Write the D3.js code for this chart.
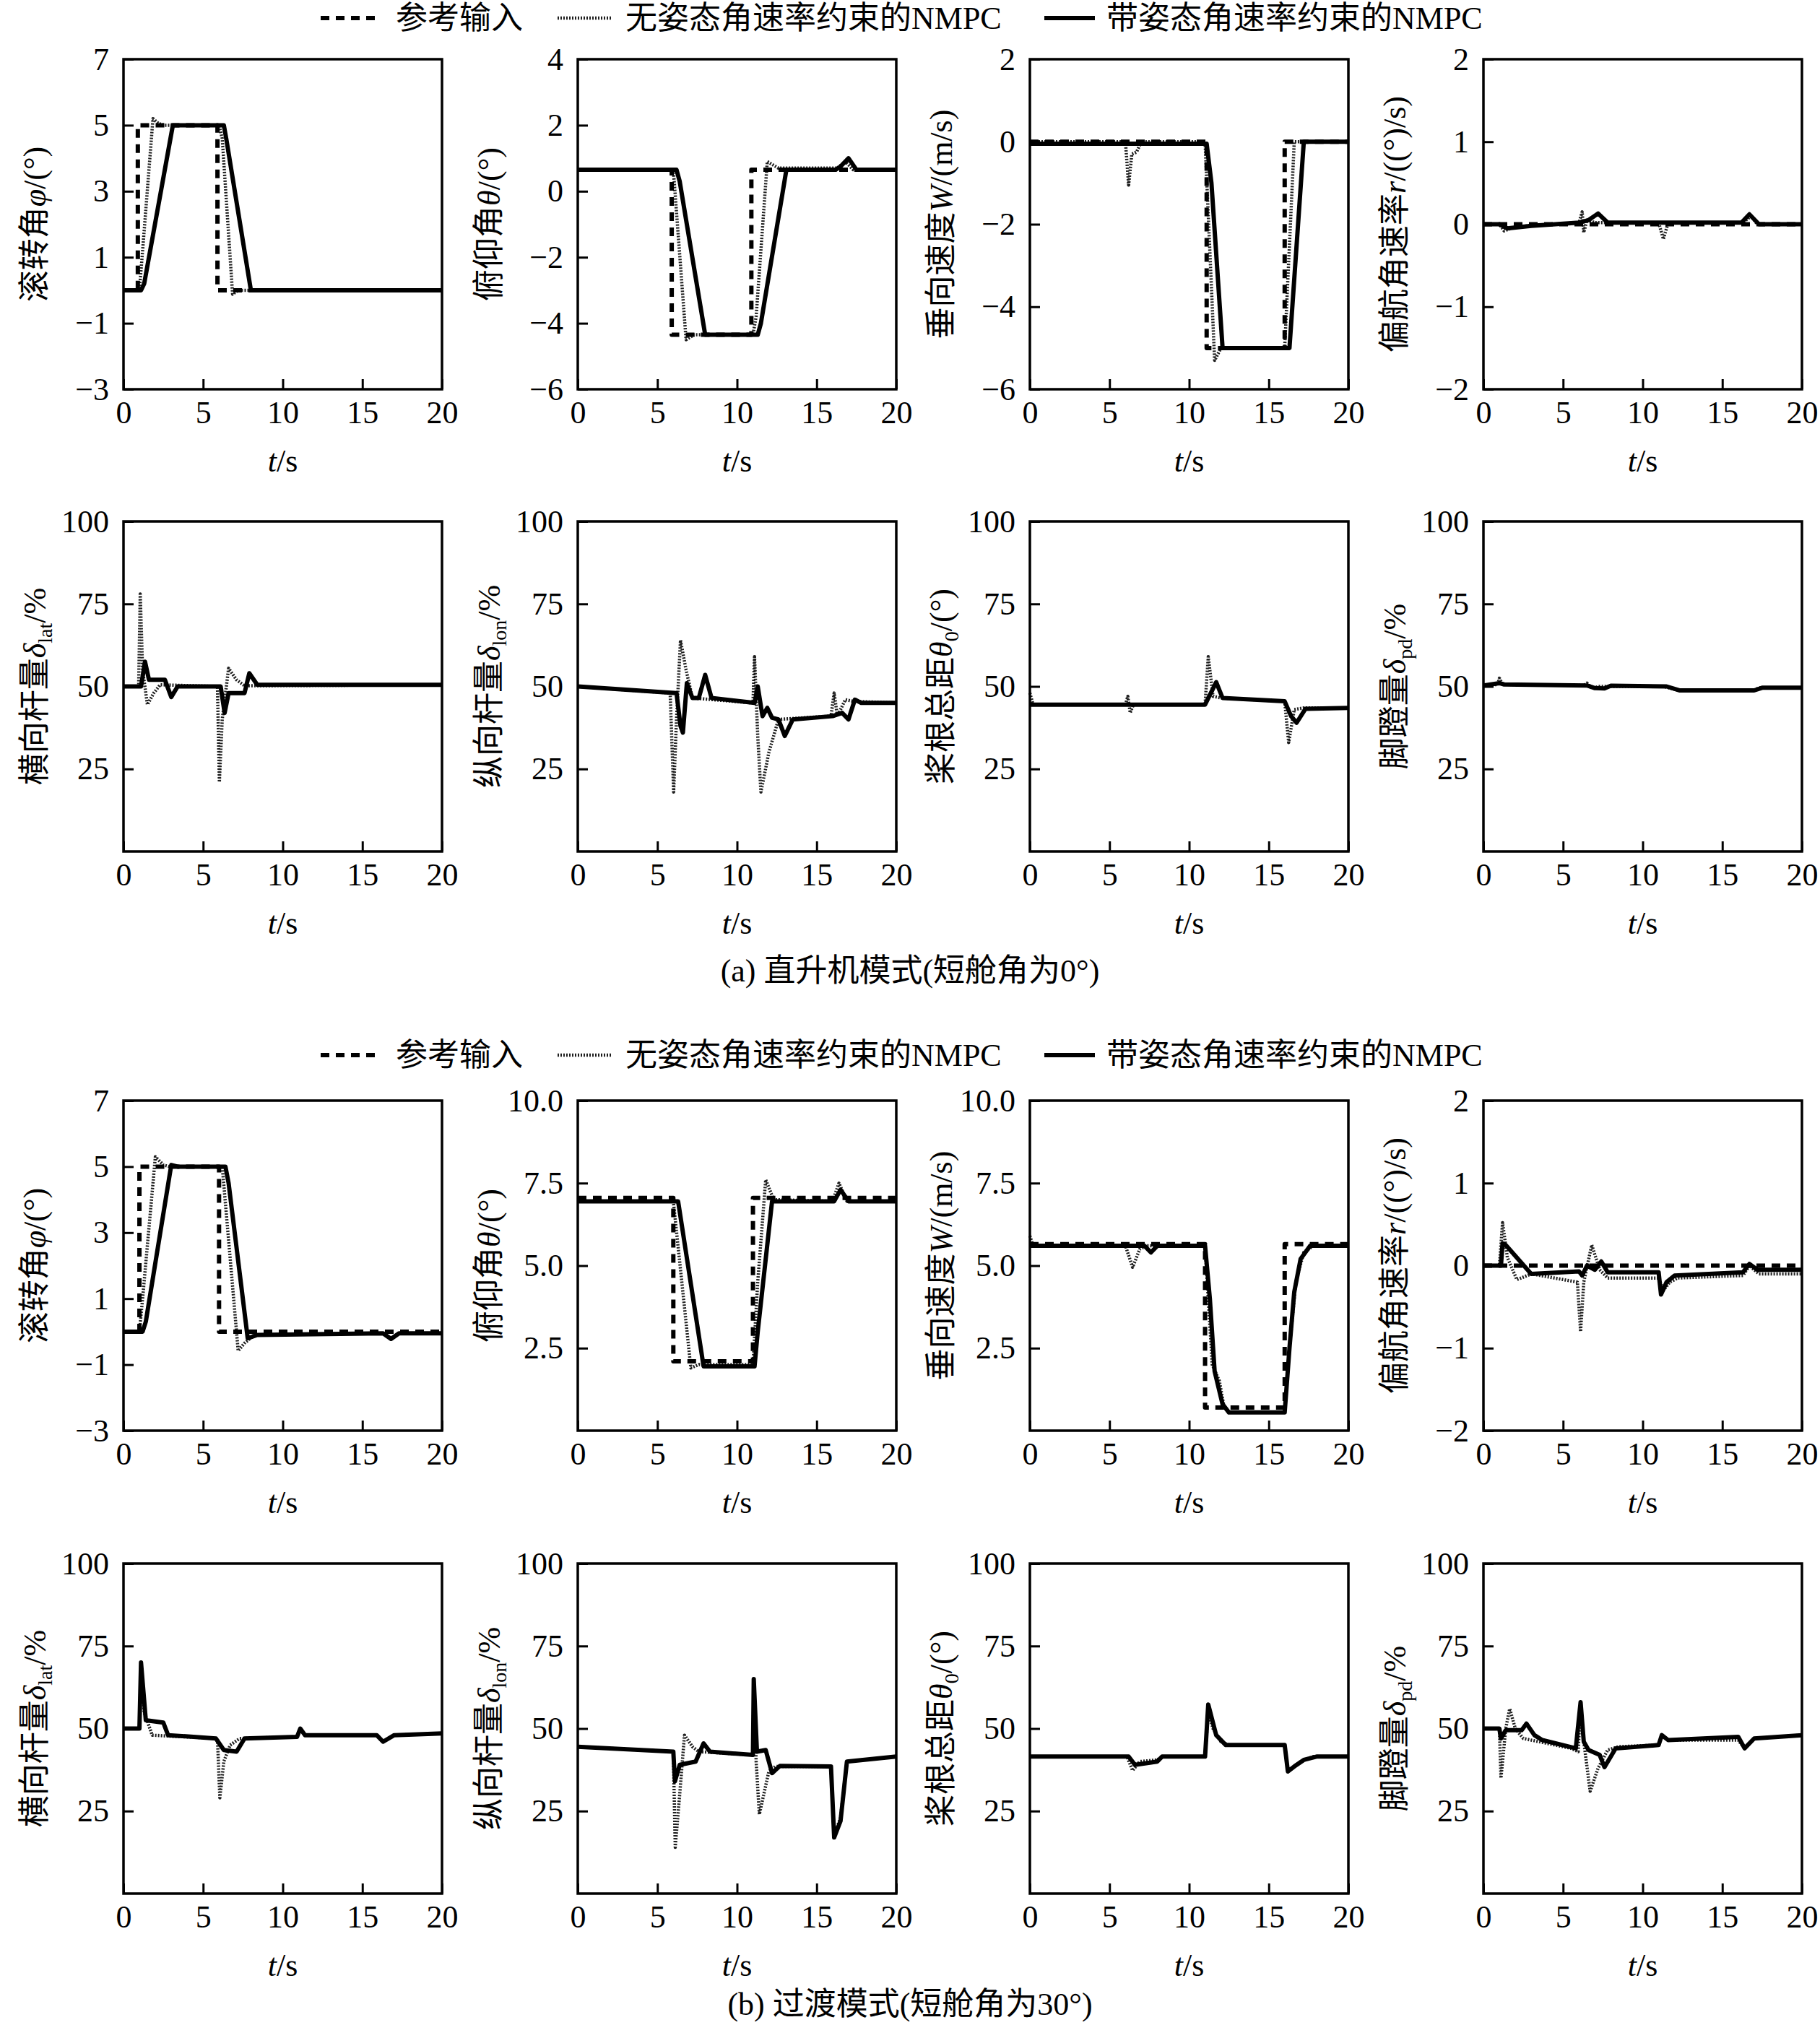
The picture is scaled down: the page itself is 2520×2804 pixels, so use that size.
<!DOCTYPE html>
<html>
<head>
<meta charset="utf-8">
<script src="https://cdn.jsdelivr.net/npm/d3@7"></script>
<style>
  body { margin: 0; background: #fff; }
  svg { display: block; font-family: 'Liberation Serif', 'Noto Sans CJK SC', serif; }
</style>
</head>
<body>
<svg id="chart" width="2520" height="2804"></svg>
<script>
// ---- data: [t (s), value] breakpoints ----
const timeTicks = [0, 5, 10, 15, 20];

// (a) helicopter mode, attitude / velocity
const rollRefA = [[0, 0], [0.9, 0], [0.9, 5], [5.9, 5], [5.9, 0], [20, 0]];
const rollFreeA = [[0, 0], [1.0, 0], [1.2, 1.2], [1.85, 5.2], [2.2, 5.05], [2.6, 5.0], [6.0, 5.0], [6.2, 4.6], [6.85, -0.12], [7.2, 0], [20, 0]];
const rollConA = [[0, 0], [1.1, 0], [1.3, 0.2], [3.1, 5.0], [6.3, 5.0], [6.45, 4.6], [8.0, 0], [20, 0]];

const pitchRefA = [[0, 0.65], [5.9, 0.65], [5.9, -4.35], [10.9, -4.35], [10.9, 0.65], [20, 0.65]];
const pitchFreeA = [[0, 0.65], [6.0, 0.65], [6.8, -4.5], [7.3, -4.35], [11.0, -4.35], [11.2, -3.8], [11.9, 0.9], [12.6, 0.7], [16.3, 0.7], [16.8, 0.9], [17.3, 0.65], [20, 0.65]];
const pitchConA = [[0, 0.65], [6.2, 0.65], [6.4, 0.3], [8.0, -4.35], [11.3, -4.35], [11.5, -4.0], [13.1, 0.65], [16.2, 0.65], [16.5, 0.75], [17.0, 1.0], [17.5, 0.65], [20, 0.65]];

const wRefA = [[0, 0], [11.1, 0], [11.1, -5], [16, -5], [16, 0], [20, 0]];
const wFreeA = [[0, 0], [6.0, 0], [6.2, -1.05], [6.4, -0.3], [6.7, -0.25], [7.0, 0], [11.0, 0], [11.6, -5.3], [12.0, -5.0], [16.0, -5.0], [16.6, 0], [20, 0]];
const wConA = [[0, -0.05], [11.1, -0.05], [11.4, -1.0], [12.1, -5.0], [16.3, -5.0], [17.2, 0], [20, 0]];

const yawRefA = [[0, 0], [20, 0]];
const yawFreeA = [[0, 0], [1.0, 0], [1.3, -0.08], [2.0, -0.03], [6.0, 0.02], [6.2, 0.15], [6.3, -0.1], [6.5, 0.05], [7.0, 0.02], [11.0, 0.02], [11.3, -0.18], [11.6, 0.02], [16.3, 0.02], [16.8, 0.1], [17.2, 0], [20, 0]];
const yawConA = [[0, 0], [1.0, 0], [1.5, -0.05], [3.0, -0.02], [6.0, 0.02], [6.6, 0.05], [7.2, 0.13], [7.8, 0.02], [11.0, 0.02], [16.2, 0.02], [16.7, 0.12], [17.3, 0], [20, 0]];

// (a) helicopter mode, controls
const latFreeA = [[0, 50], [0.95, 50], [1.05, 78], [1.2, 55], [1.5, 44.5], [1.9, 48], [2.3, 50.5], [5.9, 50], [6.02, 21], [6.2, 40], [6.6, 55.5], [7.1, 52], [7.6, 50.2], [20, 50.5]];
const latConA = [[0, 50], [1.1, 50], [1.35, 57.5], [1.6, 52], [2.6, 52], [3.0, 46.8], [3.4, 50], [6.1, 50], [6.35, 42], [6.6, 48], [7.6, 48], [7.9, 54], [8.4, 50.5], [20, 50.5]];

const lonFreeA = [[0, 50], [5.8, 48], [6.02, 18], [6.2, 40], [6.45, 64], [6.8, 55], [7.2, 46.5], [11.0, 45], [11.1, 59], [11.3, 35], [11.5, 18], [12.0, 30], [12.6, 40], [15.9, 41], [16.1, 48], [16.3, 41], [16.8, 46], [17.3, 45.5], [20, 45]];
const lonConA = [[0, 50], [6.2, 48], [6.45, 38], [6.6, 36], [6.85, 51], [7.2, 46.5], [7.6, 46.5], [8.0, 53.5], [8.4, 46.5], [11.1, 45], [11.3, 50], [11.6, 41], [11.9, 43.5], [12.2, 40.5], [12.6, 40], [13.0, 35], [13.5, 40], [16.0, 41], [16.6, 42], [17.0, 40], [17.4, 46], [17.8, 45], [20, 45]];

const colFreeA = [[0, 48], [0.2, 44.5], [6.0, 44.5], [6.15, 47], [6.3, 42], [6.5, 44.5], [11.0, 44.5], [11.2, 59], [11.5, 47], [12.0, 46.5], [16.0, 45.5], [16.25, 33], [16.6, 43], [17.2, 43.5], [20, 43.5]];
const colConA = [[0, 44.5], [11.0, 44.5], [11.7, 51.3], [12.1, 46.5], [16.0, 45.5], [16.4, 41], [16.75, 39], [17.3, 43.2], [20, 43.5]];

const pedFreeA = [[0, 50.3], [0.9, 50.6], [1.0, 52.5], [1.2, 50.6], [6.3, 50.3], [6.5, 51], [6.8, 49.5], [7.3, 50], [11.3, 50], [12.3, 48.8], [17.0, 48.8], [17.3, 49.6], [20, 49.6]];
const pedConA = [[0, 50.3], [1.0, 51], [1.3, 50.6], [6.5, 50.3], [7.0, 49.5], [7.6, 49.4], [8.0, 50.2], [11.5, 50], [12.3, 48.8], [17.0, 48.8], [17.5, 49.6], [20, 49.6]];

// (b) transition mode, attitude / velocity
const rollRefB = [[0, 0], [1, 0], [1, 5], [6, 5], [6, 0], [20, 0]];
const rollFreeB = [[0, 0], [1.0, 0], [1.2, 1.0], [2.0, 5.3], [2.5, 5.05], [2.9, 5.0], [6.2, 5.0], [7.2, -0.58], [7.6, -0.35], [8.2, -0.1], [16.3, -0.05], [16.8, -0.2], [17.3, -0.05], [20, -0.05]];
const rollConB = [[0, 0], [1.2, 0], [1.4, 0.3], [3.0, 5.05], [3.4, 5.0], [6.4, 5.0], [6.6, 4.5], [7.8, -0.2], [8.4, -0.1], [16.3, -0.05], [16.8, -0.22], [17.3, -0.05], [20, -0.05]];

const pitchRefB = [[0, 7.05], [6, 7.05], [6, 2.1], [11, 2.1], [11, 7.05], [20, 7.05]];
const pitchFreeB = [[0, 6.95], [6.0, 6.95], [7.1, 1.9], [7.6, 2.0], [11.0, 2.0], [11.3, 4.5], [11.8, 7.6], [12.3, 7.0], [16.0, 6.95], [16.4, 7.5], [16.9, 6.95], [20, 6.95]];
const pitchConB = [[0, 6.95], [6.3, 6.95], [7.9, 1.95], [11.1, 1.95], [11.3, 3.0], [12.2, 6.95], [16.1, 6.95], [16.5, 7.3], [17.0, 6.95], [20, 6.95]];

const wRefB = [[0, 5.65], [11, 5.65], [11, 0.7], [16, 0.7], [16, 5.65], [20, 5.65]];
const wFreeB = [[0, 5.9], [0.2, 5.6], [6.0, 5.6], [6.45, 4.95], [6.9, 5.5], [7.3, 5.6], [11.0, 5.6], [11.45, 2.0], [11.9, 1.5], [12.2, 0.7], [12.5, 0.55], [16.0, 0.55], [16.3, 2.5], [16.7, 4.5], [17.2, 5.4], [17.8, 5.6], [20, 5.6]];
const wConB = [[0, 5.6], [7.2, 5.6], [7.6, 5.4], [8.0, 5.6], [11.0, 5.6], [11.3, 4.0], [11.6, 1.8], [12.1, 0.8], [12.5, 0.55], [16.0, 0.55], [16.3, 2.5], [16.6, 4.2], [17.0, 5.2], [17.6, 5.6], [20, 5.6]];

const yawRefB = [[0, 0], [20, 0]];
const yawFreeB = [[0, 0], [1.0, 0], [1.2, 0.52], [1.5, 0.1], [2.1, -0.17], [3.0, -0.1], [5.9, -0.2], [6.1, -0.8], [6.3, -0.2], [6.8, 0.25], [7.3, -0.05], [7.8, -0.15], [11.0, -0.15], [11.3, -0.3], [11.7, -0.2], [12.2, -0.15], [16.3, -0.12], [16.7, 0], [17.3, -0.1], [20, -0.1]];
const yawConB = [[0, 0], [1.1, 0], [1.2, 0.27], [1.4, 0.25], [3.0, -0.1], [6.0, -0.07], [6.2, -0.12], [6.5, 0], [7.0, -0.05], [7.4, 0.05], [7.8, -0.08], [11.0, -0.08], [11.15, -0.35], [11.5, -0.2], [12.0, -0.12], [16.3, -0.08], [16.7, 0.02], [17.2, -0.05], [20, -0.05]];

// (b) transition mode, controls
const latFreeB = [[0, 50], [1.0, 50], [1.1, 70], [1.3, 55], [1.8, 48], [2.5, 47.8], [5.9, 47], [6.05, 29], [6.3, 40], [6.7, 45], [7.3, 47], [10.9, 47.5], [11.1, 50], [11.4, 48], [15.9, 48], [16.3, 46], [17.0, 48], [20, 48.5]];
const latConB = [[0, 50], [1.0, 50], [1.1, 70], [1.4, 52.5], [2.5, 51.8], [2.8, 48], [5.8, 47], [6.3, 43.5], [7.1, 43], [7.6, 47], [10.9, 47.5], [11.1, 50], [11.4, 48], [15.9, 48], [16.3, 46], [17.0, 48], [20, 48.5]];

const lonFreeB = [[0, 44.5], [6.0, 43], [6.12, 14], [6.4, 30], [6.7, 48], [7.2, 44.5], [7.6, 43], [11.0, 42], [11.05, 64], [11.2, 40], [11.4, 24], [12.0, 37], [12.4, 38.5], [15.9, 38.5], [16.1, 17.5], [16.5, 23], [16.9, 40], [20, 41.5]];
const lonConB = [[0, 44.5], [6.0, 43], [6.1, 34], [6.4, 39], [7.4, 40], [7.9, 45.5], [8.3, 43], [11.0, 42], [11.05, 65], [11.25, 43], [11.8, 43.5], [12.2, 36.5], [12.7, 38.7], [15.9, 38.5], [16.1, 17], [16.5, 22], [16.9, 40], [20, 41.5]];

const colFreeB = [[0, 41.5], [6.1, 41.5], [6.45, 37.3], [6.9, 40], [8.0, 40.5], [8.3, 41.5], [11.0, 41.5], [11.2, 55], [11.5, 50], [12.0, 46], [12.5, 45], [16.0, 45], [16.2, 37], [17.0, 40], [17.8, 41.5], [20, 41.5]];
const colConB = [[0, 41.5], [6.2, 41.5], [6.6, 39], [8.0, 40], [8.3, 41.5], [11.0, 41.5], [11.2, 57.3], [11.7, 48], [12.3, 45], [16.0, 45], [16.2, 37], [16.6, 38.5], [17.2, 40.5], [18.0, 41.5], [20, 41.5]];

const pedFreeB = [[0, 50], [1.0, 50], [1.1, 35], [1.4, 50], [1.65, 56], [2.0, 50], [2.5, 47], [3.5, 46], [5.5, 44], [5.95, 43], [6.1, 58], [6.3, 46], [6.7, 31], [7.2, 38], [7.8, 43.5], [8.5, 44.5], [11.0, 45], [11.2, 48], [11.6, 46.5], [16.0, 46.5], [16.4, 44], [17.0, 47], [20, 48]];
const pedConB = [[0, 50], [1.0, 50], [1.1, 47], [1.4, 49.5], [2.4, 49.5], [2.7, 51.5], [3.2, 48], [3.7, 46.5], [5.8, 44], [6.1, 58], [6.3, 46], [6.6, 43.5], [7.3, 42], [7.6, 38.3], [8.3, 44], [11.0, 45], [11.2, 48], [11.6, 46.5], [16.0, 47.5], [16.4, 44], [17.0, 47], [20, 48]];

// y-axis ticks
const rollTicks = [-3, -1, 1, 3, 5, 7];
const pitchTicksA = [-6, -4, -2, 0, 2, 4];
const wTicksA = [-6, -4, -2, 0, 2];
const yawTicks = [-2, -1, 0, 1, 2];
const controlTicks = [25, 50, 75, 100];
const tenTicks = [2.5, 5.0, 7.5, 10.0];

// axis titles: [text, kind] where kind is 'i' (italic) or 'sub'
const rollTitle = [['滚转角'], ['φ', 'i'], ['/(°)']];
const pitchTitle = [['俯仰角'], ['θ', 'i'], ['/(°)']];
const wTitle = [['垂向速度'], ['W', 'i'], ['/(m/s)']];
const yawTitle = [['偏航角速率'], ['r', 'i'], ['/((°)/s)']];
const latTitle = [['横向杆量'], ['δ', 'i'], ['lat', 'sub'], ['/%']];
const lonTitle = [['纵向杆量'], ['δ', 'i'], ['lon', 'sub'], ['/%']];
const colTitle = [['桨根总距'], ['θ', 'i'], ['0', 'sub'], ['/(°)']];
const pedTitle = [['脚蹬量'], ['δ', 'i'], ['pd', 'sub'], ['/%']];

const legendLabels = ['参考输入', '无姿态角速率约束的NMPC', '带姿态角速率约束的NMPC'];
const captions = ['(a) 直升机模式(短舱角为0°)', '(b) 过渡模式(短舱角为30°)'];

// ---- layout ----
const columnLeft = [171, 800, 1426, 2054];
const rowTop = [82, 722, 1524, 2165];
const plotW = 441;
const plotH = 457;

const seriesStyle = {
  free: { stroke: '#1e1e1e', width: 4.5, dash: '2,2' },
  con: { stroke: '#000', width: 6, dash: null },
  ref: { stroke: '#000', width: 6, dash: '12,9' }
};

const fmtInt = d3.format('d');
const fmtOne = d3.format('.1f');

const panels = [
  { row: 0, col: 0, domain: [-3, 7], ticks: rollTicks, fmt: fmtInt, title: rollTitle, ref: rollRefA, free: rollFreeA, con: rollConA },
  { row: 0, col: 1, domain: [-6, 4], ticks: pitchTicksA, fmt: fmtInt, title: pitchTitle, ref: pitchRefA, free: pitchFreeA, con: pitchConA },
  { row: 0, col: 2, domain: [-6, 2], ticks: wTicksA, fmt: fmtInt, title: wTitle, ref: wRefA, free: wFreeA, con: wConA },
  { row: 0, col: 3, domain: [-2, 2], ticks: yawTicks, fmt: fmtInt, title: yawTitle, ref: yawRefA, free: yawFreeA, con: yawConA },
  { row: 1, col: 0, domain: [0, 100], ticks: controlTicks, fmt: fmtInt, title: latTitle, free: latFreeA, con: latConA },
  { row: 1, col: 1, domain: [0, 100], ticks: controlTicks, fmt: fmtInt, title: lonTitle, free: lonFreeA, con: lonConA },
  { row: 1, col: 2, domain: [0, 100], ticks: controlTicks, fmt: fmtInt, title: colTitle, free: colFreeA, con: colConA },
  { row: 1, col: 3, domain: [0, 100], ticks: controlTicks, fmt: fmtInt, title: pedTitle, free: pedFreeA, con: pedConA },
  { row: 2, col: 0, domain: [-3, 7], ticks: rollTicks, fmt: fmtInt, title: rollTitle, ref: rollRefB, free: rollFreeB, con: rollConB },
  { row: 2, col: 1, domain: [0, 10], ticks: tenTicks, fmt: fmtOne, title: pitchTitle, ref: pitchRefB, free: pitchFreeB, con: pitchConB },
  { row: 2, col: 2, domain: [0, 10], ticks: tenTicks, fmt: fmtOne, title: wTitle, ref: wRefB, free: wFreeB, con: wConB },
  { row: 2, col: 3, domain: [-2, 2], ticks: yawTicks, fmt: fmtInt, title: yawTitle, ref: yawRefB, free: yawFreeB, con: yawConB },
  { row: 3, col: 0, domain: [0, 100], ticks: controlTicks, fmt: fmtInt, title: latTitle, free: latFreeB, con: latConB },
  { row: 3, col: 1, domain: [0, 100], ticks: controlTicks, fmt: fmtInt, title: lonTitle, free: lonFreeB, con: lonConB },
  { row: 3, col: 2, domain: [0, 100], ticks: controlTicks, fmt: fmtInt, title: colTitle, free: colFreeB, con: colConB },
  { row: 3, col: 3, domain: [0, 100], ticks: controlTicks, fmt: fmtInt, title: pedTitle, free: pedFreeB, con: pedConB }
];

const svg = d3.select('#chart');

function styleLine(sel, style) {
  sel.attr('fill', 'none')
    .attr('stroke', style.stroke)
    .attr('stroke-width', style.width)
    .attr('stroke-linejoin', 'round')
    .attr('stroke-dasharray', style.dash);
}

function drawRotatedTitle(g, parts, x, y) {
  const text = g.append('text')
    .attr('transform', `translate(${x},${y}) rotate(-90)`)
    .attr('text-anchor', 'middle')
    .attr('font-size', 44)
    .attr('fill', '#000');
  let shifted = false;
  parts.forEach(([s, kind], i) => {
    const t = text.append('tspan').text(s);
    if (i === 0) t.attr('dy', 15);
    if (kind === 'i') t.attr('font-style', 'italic');
    if (kind === 'sub') {
      t.attr('font-size', 28).attr('dy', 9);
      shifted = true;
    } else if (shifted) {
      t.attr('dy', -9);
      shifted = false;
    }
  });
}

function drawPanel(p) {
  const left = columnLeft[p.col];
  const top = rowTop[p.row];
  const g = svg.append('g').attr('transform', `translate(${left},${top})`);

  const x = d3.scaleLinear().domain([0, 20]).range([0, plotW]);
  const y = d3.scaleLinear().domain(p.domain).range([plotH, 0]);

  const line = d3.line().x((d) => x(d[0])).y((d) => y(d[1]));

  ['free', 'con', 'ref'].forEach((key) => {
    if (!p[key]) return;
    g.append('path').datum(p[key]).attr('d', line).call(styleLine, seriesStyle[key]);
  });

  const xAxis = g.append('g')
    .attr('transform', `translate(0,${plotH})`)
    .call(d3.axisBottom(x).tickValues(timeTicks).tickSizeInner(-14).tickSizeOuter(0).tickPadding(16));
  const yAxis = g.append('g')
    .call(d3.axisLeft(y).tickValues(p.ticks).tickFormat(p.fmt).tickSizeInner(-14).tickSizeOuter(0).tickPadding(20));

  [xAxis, yAxis].forEach((ax) => {
    ax.attr('font-family', null).attr('font-size', 44);
    ax.select('.domain').remove();
    ax.selectAll('.tick line').attr('stroke', '#000').attr('stroke-width', 3);
    ax.selectAll('.tick text').attr('fill', '#000');
  });

  g.append('rect')
    .attr('width', plotW)
    .attr('height', plotH)
    .attr('fill', 'none')
    .attr('stroke', '#000')
    .attr('stroke-width', 3.5);

  const xLabel = g.append('text')
    .attr('x', plotW / 2)
    .attr('y', plotH + 114)
    .attr('text-anchor', 'middle')
    .attr('font-size', 44);
  xLabel.append('tspan').attr('font-style', 'italic').text('t');
  xLabel.append('tspan').text('/s');

  drawRotatedTitle(g, p.title, -123, plotH / 2);
}

function drawLegend(cy) {
  const items = [
    { key: 'ref', x0: 444, x1: 528, tx: 548 },
    { key: 'free', x0: 772, x1: 846, tx: 866 },
    { key: 'con', x0: 1446, x1: 1516, tx: 1532 }
  ];
  const g = svg.append('g');
  items.forEach((item, i) => {
    g.append('line')
      .attr('x1', item.x0).attr('x2', item.x1)
      .attr('y1', cy).attr('y2', cy)
      .call(styleLine, seriesStyle[item.key]);
    g.append('text')
      .attr('x', item.tx)
      .attr('y', cy + 15)
      .attr('font-size', 44)
      .text(legendLabels[i]);
  });
}

panels.forEach(drawPanel);
drawLegend(25);
drawLegend(1461);

svg.append('text').attr('x', 1260).attr('y', 1359).attr('text-anchor', 'middle').attr('font-size', 44).text(captions[0]);
svg.append('text').attr('x', 1260).attr('y', 2790).attr('text-anchor', 'middle').attr('font-size', 44).text(captions[1]);
</script>
</body>
</html>
